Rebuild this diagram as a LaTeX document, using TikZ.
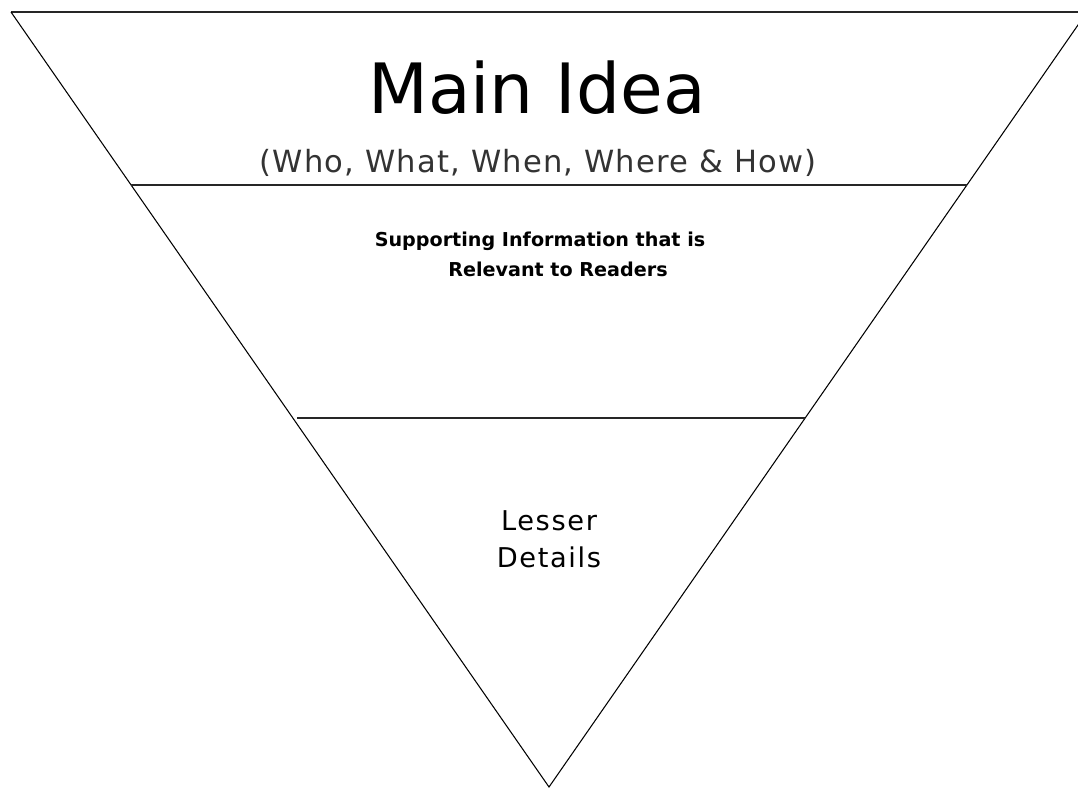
\documentclass[tikz,border=0pt]{standalone}
\usepackage{fontspec}
\setmainfont{DejaVu Sans}
\usepackage{tikz}
\usetikzlibrary{calc}

\begin{document}
\begin{tikzpicture}[
  x = 0.02cm, y = -0.02cm,
  side/.style  = {line width=0.6pt, color=black},
  band/.style  = {line width=1.1pt, color=black!85},
  title/.style = {font=\fontsize{39.5}{44}\selectfont, anchor=base},
  sub/.style   = {font=\fontsize{17.4}{20}\selectfont\addfontfeature{LetterSpace=4}, color=black!80, anchor=base},
  note/.style  = {font=\fontsize{10.9}{17}\selectfont\bfseries, anchor=base},
  tail/.style  = {font=\fontsize{15.5}{21}\selectfont\addfontfeature{LetterSpace=6}, align=center},
]

\useasboundingbox (0,0) rectangle (1078,789);
\clip (0,0) rectangle (1078,789);

% Corners of the funnel
\coordinate (tl)   at (11,12);
\coordinate (tr)   at (1087,12);
\coordinate (tip)  at (549,787);

% Dividers
\coordinate (l1) at (131,185);
\coordinate (r1) at (967,185);
\coordinate (l2) at (297,418);
\coordinate (r2) at (805,418);

% Outline
\draw[band] (tl) -- (tr);
\draw[side] (tl) -- (tip) -- (tr);
\draw[band] (l1) -- (r1);
\draw[band] (l2) -- (r2);

% Texts
\node[title] (main)     at (537,113) {Main Idea};
\node[sub]   (who)      at (538,172) {(Who, What, When, Where \& How)};
\node[note]  (support)  at (540,246) {Supporting Information that is};
\node[note]  (relevant) at (558,276) {Relevant to Readers};
\node[tail]  (lesser)   at (549,539) {Lesser\\Details};
\end{tikzpicture}
\end{document}
